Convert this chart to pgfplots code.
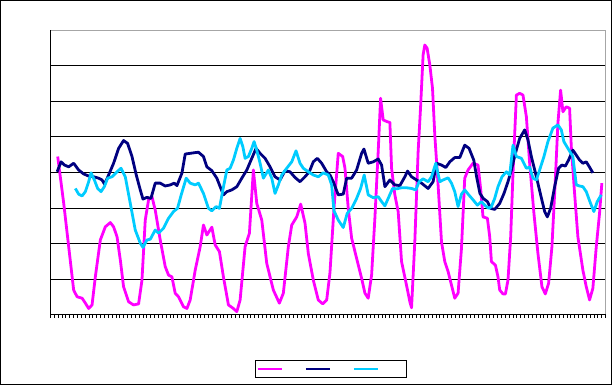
\documentclass[border=0pt]{standalone}
\usepackage{pgfplots}
\pgfplotsset{compat=1.18}
\definecolor{cMag}{HTML}{FF00FF}
\definecolor{cNavy}{HTML}{000080}
\definecolor{cCyan}{HTML}{00CCFF}
\begin{document}
\begin{tikzpicture}
\begin{axis}[
  at={(0,0)}, anchor=south west,
  scale only axis, width=417pt, height=213.4pt,
  xmin=0, xmax=144, ymin=0, ymax=8,
  xtick={0,1,...,144}, ytick={0,1,...,8},
  xticklabels={}, yticklabels={},
  xtick pos=left, xtick align=outside, major tick length=2.5pt,
  ytick style={draw=none},
  xtick style={black, line width=0.6pt},
  ymajorgrids, major grid style={black, line width=0.75pt},
  axis line style={draw=none},
  clip=true,
  every axis plot/.append style={no markers, line width=2.1pt, line join=round},
  legend columns=3,
  legend image code/.code={\draw[#1] (0pt,0pt) -- (18pt,0pt);},
  legend style={at={(0.505,-0.1916)}, anchor=center, draw=black, line width=0.75pt,
    inner xsep=1pt, inner ysep=5pt, nodes={inner sep=0pt},
    /tikz/every odd column/.append style={column sep=2pt},
    /tikz/every even column/.append style={column sep=13pt}},
  after end axis/.code={
    \draw[gray!70, line width=0.75pt] (rel axis cs:0,1) -- (rel axis cs:1,1) -- (rel axis cs:1,0);
    \draw[black, line width=0.75pt] (rel axis cs:0,1) -- (rel axis cs:0,0) -- (rel axis cs:1,0);
  },
]
\addplot[cMag] coordinates {
(1.89,4.45)(3.44,3.14)(4.74,1.91)(6.03,0.69)(6.92,0.50)(8.21,0.46)(9.07,0.32)(9.92,0.17)(10.80,0.27)(11.65,1.06)
(12.95,2.10)(14.24,2.47)(15.54,2.59)(16.39,2.47)(17.28,2.19)(18.13,1.54)(18.98,0.78)(20.28,0.36)(21.57,0.27)(22.87,0.30)
(23.75,0.97)(24.60,2.66)(25.46,3.23)(26.34,3.32)(27.19,2.94)(28.49,2.10)(29.78,1.35)(30.64,1.11)(31.52,1.06)(32.37,0.60)
(33.23,0.50)(34.52,0.22)(35.41,0.17)(36.26,0.41)(37.56,1.25)(38.85,1.91)(39.70,2.52)(40.58,2.24)(41.88,2.46)(42.74,1.96)
(43.85,1.77)(44.88,1.06)(46.18,0.27)(47.47,0.17)(48.35,0.08)(49.21,0.41)(50.50,1.91)(51.62,2.29)(52.65,4.07)(53.53,3.13)
(54.83,2.66)(56.12,1.44)(57.83,0.69)(59.39,0.32)(60.42,0.60)(61.72,1.91)(62.60,2.52)(63.90,2.75)(64.93,3.11)(66.05,2.57)
(66.90,1.72)(68.20,0.97)(69.49,0.41)(70.63,0.30)(71.67,0.41)(72.52,1.18)(73.56,2.99)(74.67,4.54)(75.81,4.45)(76.41,4.12)
(77.26,2.99)(78.14,2.15)(79.44,1.58)(80.73,1.02)(81.59,0.60)(82.44,0.46)(83.32,1.11)(84.17,2.71)(85.03,4.59)(85.65,6.09)
(86.33,5.48)(87.36,5.43)(88.06,5.41)(88.50,4.12)(89.35,3.37)(90.21,2.90)(91.09,1.49)(92.20,0.92)(93.24,0.36)(93.68,0.19)
(94.53,2.05)(95.39,4.59)(96.01,5.81)(96.68,7.31)(97.12,7.59)(97.72,7.50)(98.42,7.03)(99.12,6.37)(99.71,5.06)(100.57,3.65)
(101.45,2.05)(102.31,1.49)(103.16,1.21)(104.04,0.83)(104.89,0.46)(105.75,0.60)(106.63,1.86)(107.48,3.84)(108.34,4.07)(109.63,4.26)
(110.93,4.21)(111.63,3.51)(112.22,2.75)(113.36,2.71)(113.96,2.19)(114.40,1.49)(115.44,1.39)(116.11,1.06)(116.55,0.69)(117.40,0.58)
(118.03,0.58)(118.70,0.97)(119.40,2.19)(120.00,3.98)(120.88,6.18)(121.73,6.23)(122.59,6.18)(123.47,5.57)(124.32,4.26)(125.43,2.85)
(126.47,1.72)(127.51,0.78)(128.39,0.58)(129.24,0.88)(130.10,1.91)(130.98,3.79)(131.65,5.39)(132.35,6.32)(132.95,5.71)(133.82,5.85)
(134.68,5.81)(135.12,4.73)(135.98,3.41)(136.83,2.19)(138.13,1.25)(139.01,0.78)(139.86,0.41)(140.72,0.74)(141.60,1.91)(142.45,2.85)
(143.05,3.70)
};
\addlegendentry{}
\addplot[cNavy] coordinates {
(1.74,4.02)(2.77,4.30)(3.63,4.21)(4.74,4.16)(6.03,4.26)(7.33,4.07)(8.62,3.96)(9.92,3.90)(11.21,3.88)(12.51,3.84)
(13.39,3.79)(14.06,3.67)(15.10,3.93)(16.39,4.26)(17.69,4.68)(18.98,4.90)(20.02,4.82)(21.16,4.45)(22.27,3.93)(23.31,3.51)
(24.01,3.25)(25.04,3.30)(26.08,3.27)(27.19,3.70)(28.49,3.70)(29.78,3.62)(31.08,3.65)(32.12,3.70)(32.82,3.63)(34.11,3.98)
(34.97,4.52)(36.26,4.54)(37.56,4.56)(38.41,4.57)(39.70,4.45)(40.58,4.16)(41.88,4.05)(43.17,3.84)(44.21,3.55)(44.88,3.37)
(45.77,3.46)(47.06,3.51)(48.36,3.60)(49.65,3.84)(50.95,4.07)(52.24,4.40)(53.35,4.68)(54.39,4.54)(55.68,4.40)(56.98,4.16)
(58.27,3.88)(59.57,3.79)(60.86,4.05)(62.16,4.02)(63.45,3.86)(64.75,3.74)(66.04,3.88)(67.16,4.02)(68.19,4.30)(69.23,4.40)
(70.37,4.26)(71.66,4.02)(72.52,3.93)(73.37,3.74)(74.67,3.37)(75.96,3.39)(76.85,3.84)(78.14,3.84)(79.43,4.07)(80.73,4.54)
(81.33,4.66)(82.44,4.26)(83.74,4.30)(85.03,4.38)(85.91,4.21)(86.77,3.60)(88.06,3.79)(89.36,3.65)(90.65,3.63)(91.95,3.88)
(92.64,4.04)(93.68,3.88)(94.97,3.79)(96.27,3.70)(97.98,3.55)(99.27,3.74)(100.16,4.26)(101.45,4.21)(102.56,4.14)(103.60,4.30)
(104.89,4.42)(106.19,4.42)(107.48,4.77)(108.60,4.68)(109.82,4.35)(110.56,3.88)(111.42,3.41)(112.28,3.27)(113.36,3.18)(114.22,2.99)
(115.25,2.96)(116.55,3.13)(117.66,3.41)(118.70,3.74)(119.58,4.07)(120.62,4.54)(121.73,4.96)(123.03,5.20)(123.88,4.92)(124.76,4.45)
(126.06,3.88)(127.17,3.37)(128.21,2.90)(128.91,2.75)(129.76,2.99)(130.80,3.60)(131.83,4.12)(132.69,4.21)(133.57,4.18)(134.42,4.35)
(135.53,4.63)(136.42,4.49)(137.27,4.35)(138.13,4.26)(139.01,4.30)(139.86,4.15)(140.72,3.99)
};
\addlegendentry{}
\addplot[cCyan] coordinates {
(6.47,3.55)(7.33,3.39)(8.21,3.34)(9.07,3.46)(9.92,3.74)(10.54,3.99)(11.40,3.79)(12.25,3.55)(13.13,3.46)(13.99,3.60)
(14.84,3.84)(15.98,3.88)(17.28,4.02)(18.31,4.12)(19.42,3.88)(20.72,3.13)(22.01,2.38)(23.31,2.01)(24.01,1.89)(25.04,2.10)
(25.90,2.12)(27.19,2.38)(28.05,2.29)(29.34,2.43)(30.64,2.71)(31.93,2.90)(32.97,2.99)(33.93,3.37)(35.22,3.84)(36.26,3.70)
(37.56,3.65)(38.41,3.70)(39.70,3.41)(41.00,2.99)(41.88,2.92)(42.99,3.04)(43.85,2.99)(44.73,3.51)(45.77,4.07)(46.62,4.12)
(47.47,4.35)(48.35,4.68)(49.21,4.96)(49.91,4.73)(50.50,4.40)(51.36,4.45)(52.24,4.68)(52.84,4.87)(53.53,4.63)(54.39,4.26)
(55.24,3.84)(56.54,4.07)(57.42,3.84)(58.27,3.41)(59.13,3.65)(60.01,3.93)(61.30,4.12)(62.60,4.30)(63.71,4.61)(64.75,4.26)
(65.60,4.12)(66.90,4.02)(68.19,3.93)(69.49,3.88)(70.78,3.99)(72.08,3.93)(72.96,3.65)(73.56,2.92)(74.67,2.66)(75.96,2.45)
(77.00,2.85)(78.14,2.99)(79.43,3.27)(80.47,3.55)(81.40,3.93)(82.44,3.37)(83.74,3.29)(85.03,3.32)(85.91,3.18)(86.77,3.06)
(87.62,3.27)(88.76,3.55)(89.80,3.54)(91.09,3.57)(92.39,3.57)(93.68,3.55)(94.79,3.51)(95.65,3.74)(96.68,3.82)(97.98,3.74)
(98.86,3.88)(99.97,4.26)(101.01,3.74)(101.87,3.79)(103.16,3.85)(104.04,3.70)(104.89,3.46)(105.75,3.04)(106.63,3.39)(107.48,3.51)
(108.52,3.37)(109.63,3.23)(110.77,3.08)(111.81,3.18)(112.85,3.06)(113.70,2.99)(114.40,3.04)(115.25,3.27)(116.11,3.60)(117.15,3.88)
(118.29,4.02)(119.14,3.93)(120.00,4.77)(120.88,4.45)(122.17,4.40)(123.47,4.12)(124.32,4.15)(125.18,3.84)(126.06,3.79)(126.91,4.07)
(128.03,4.45)(129.06,4.87)(130.36,5.25)(131.65,5.34)(132.53,5.20)(133.20,4.87)(134.24,4.68)(135.53,4.45)(136.42,3.65)(137.27,3.62)
(138.13,3.60)(139.01,3.46)(140.12,3.13)(140.98,2.90)(141.86,3.18)(142.90,3.37)
};
\addlegendentry{\hspace*{17.5pt}}
\end{axis}
\draw[black, line width=0.75pt] (-37.5pt,-52.9pt) rectangle (421.5pt,235.9pt);
\end{tikzpicture}
\end{document}
